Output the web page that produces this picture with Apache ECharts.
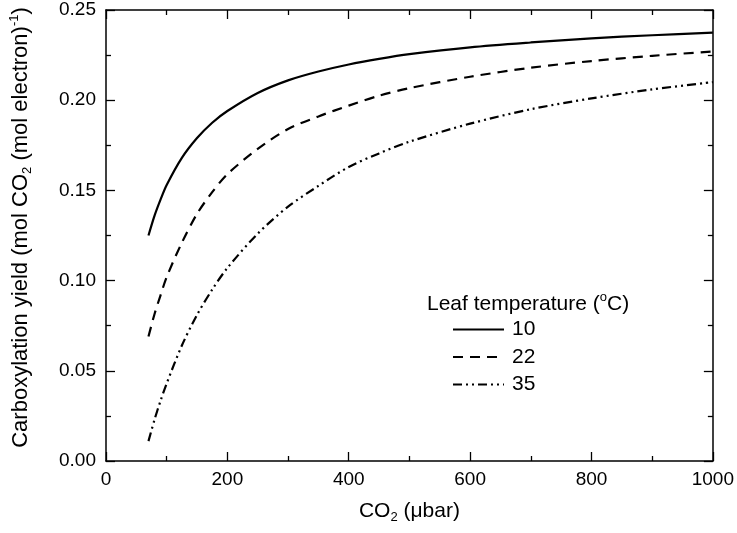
<!DOCTYPE html>
<html>
<head>
<meta charset="utf-8">
<script src="https://cdn.jsdelivr.net/npm/echarts@6/dist/echarts.min.js"></script>
<style>
  html, body { margin: 0; padding: 0; background: #fff; }
  #chart { width: 737px; height: 533px; }
</style>
</head>
<body>
<div id="chart"></div>
<script>
// CO2 (ubar) sample points
var co2 = [70, 80, 90, 100, 125, 150, 175, 200, 250, 300, 350, 400, 450, 500, 600, 700, 800, 900, 1000];
// carboxylation yield, leaf temperature 10 / 22 / 35 C
var yield10 = [0.125, 0.136, 0.145, 0.153, 0.168, 0.179, 0.1875, 0.194, 0.204, 0.211, 0.2159, 0.2198, 0.2229, 0.2255, 0.2293, 0.232, 0.2343, 0.236, 0.2375];
var yield22 = [0.069, 0.0815, 0.092, 0.102, 0.121, 0.137, 0.149, 0.159, 0.173, 0.184, 0.191, 0.197, 0.2025, 0.2067, 0.213, 0.218, 0.2217, 0.2246, 0.227];
var yield35 = [0.011, 0.023, 0.0335, 0.043, 0.064, 0.081, 0.095, 0.107, 0.126, 0.141, 0.1525, 0.163, 0.1705, 0.177, 0.187, 0.195, 0.201, 0.206, 0.210];
var seriesNames = ["10", "22", "35"];
var xTicks = { min: 0, max: 1000, interval: 200 };
var yTicks = { min: 0, max: 0.25, interval: 0.05 };

function pairs(ys) {
  return co2.map(function (x, i) { return [x, ys[i]]; });
}

var font = "Liberation Sans, Arial, sans-serif";
var black = "#000";

function frameAxis(pos, ticks, showLabel) {
  return {
    type: "value",
    position: pos,
    min: ticks.min,
    max: ticks.max,
    interval: ticks.interval,
    axisLine: { show: true, onZero: false, lineStyle: { color: black, width: 1.5 } },
    axisTick: { show: true, inside: true, length: 9, lineStyle: { color: black, width: 1.3 } },
    minorTick: { show: true, splitNumber: 2, length: 5, lineStyle: { color: black, width: 1.3 } },
    splitLine: { show: false },
    axisLabel: { show: showLabel, color: black, fontSize: 19, fontFamily: font }
  };
}

var xBottom = frameAxis("bottom", xTicks, true);
xBottom.axisLabel.margin = 9;
xBottom.axisLabel.formatter = function (v) { return String(v); };
xBottom.name = "CO{sub|2} (\u03bcbar)";
xBottom.nameLocation = "middle";
xBottom.nameGap = 37;
xBottom.nameTextStyle = {
  color: black, fontSize: 21, fontFamily: font, lineHeight: 26,
  rich: { sub: { fontSize: 13, fontFamily: font, verticalAlign: "bottom", lineHeight: 16 } }
};

var yLeft = frameAxis("left", yTicks, true);
yLeft.axisLabel.margin = 10;
yLeft.axisLabel.formatter = function (v) { return v.toFixed(2); };
yLeft.name = "Carboxylation yield (mol CO{sub|2} (mol electron){sup|-1})";
yLeft.nameLocation = "middle";
yLeft.nameGap = 72;
yLeft.nameTextStyle = {
  color: black, fontSize: 22, fontFamily: font, lineHeight: 26,
  padding: [0, 0, 0, 16],
  rich: {
    sub: { fontSize: 13, fontFamily: font, verticalAlign: "bottom", lineHeight: 16 },
    sup: { fontSize: 13, fontFamily: font, verticalAlign: "top", lineHeight: 16 }
  }
};

var chart = echarts.init(document.getElementById("chart"));
chart.setOption({
  animation: false,
  backgroundColor: "#fff",
  grid: { left: 104, right: 21, top: 10, bottom: 72 },
  title: {
    text: "Leaf temperature ({sup|o}C)",
    left: 427,
    top: 291,
    padding: 0,
    textStyle: {
      color: black, fontSize: 21, fontWeight: "normal", fontFamily: font, lineHeight: 26,
      rich: { sup: { fontSize: 13, fontFamily: font, verticalAlign: "top", lineHeight: 16 } }
    }
  },
  legend: {
    orient: "vertical",
    left: 452,
    top: 319,
    padding: 0,
    itemWidth: 51,
    itemHeight: 14,
    itemGap: 6.5,
    data: seriesNames,
    itemStyle: { opacity: 0 },
    textStyle: { color: black, fontSize: 21, fontFamily: font, padding: [0, 0, 0, 3] }
  },
  xAxis: [xBottom, frameAxis("top", xTicks, false)],
  yAxis: [yLeft, frameAxis("right", yTicks, false)],
  series: [
    {
      name: seriesNames[0], type: "line", smooth: 0.3, symbol: "none",
      data: pairs(yield10),
      lineStyle: { color: black, width: 2.2, type: "solid" }, itemStyle: { color: black }
    },
    {
      name: seriesNames[1], type: "line", smooth: 0.3, symbol: "none",
      data: pairs(yield22),
      lineStyle: { color: black, width: 2.2, type: [10, 7] }, itemStyle: { color: black }
    },
    {
      name: seriesNames[2], type: "line", smooth: 0.3, symbol: "none",
      data: pairs(yield35),
      lineStyle: { color: black, width: 2.2, type: [9, 4, 2, 4, 2, 4] }, itemStyle: { color: black }
    }
  ]
});
</script>
</body>
</html>
